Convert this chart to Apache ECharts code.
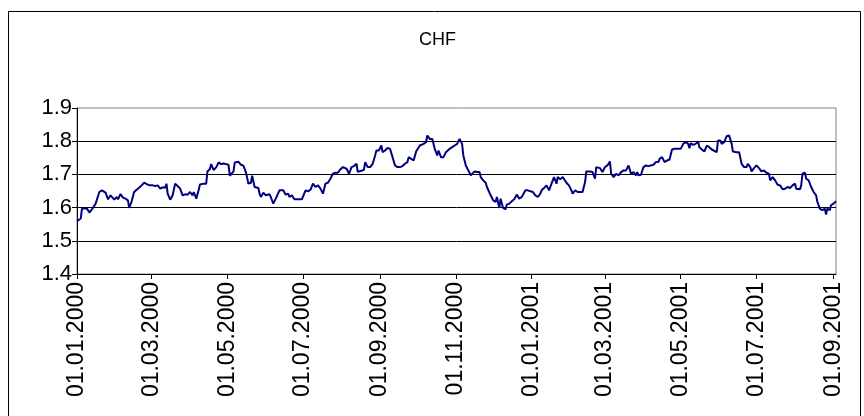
<!DOCTYPE html>
<html>
<head>
<meta charset="utf-8">
<script src="https://cdn.jsdelivr.net/npm/echarts@6/dist/echarts.min.js"></script>
<style>
html, body { margin: 0; padding: 0; background: #fff; }
#chart { width: 864px; height: 416px; }
</style>
</head>
<body>
<div id="chart"></div>
<script>
// days since 01.01.2000
const days = [
  0, 3, 4, 8, 10, 13, 15, 16, 18, 20,
  21, 23, 25, 27, 28, 30, 32, 33, 35, 37,
  39, 41, 42, 44, 46, 48, 50, 52, 54, 55,
  57, 59, 61, 63, 65, 67, 69, 71, 72, 73,
  75, 77, 78, 79, 81, 83, 85, 87, 89, 91,
  93, 94, 96, 98, 99, 102, 104, 105, 107, 108,
  110, 112, 114, 116, 118, 120, 122, 123, 124, 126,
  127, 130, 132, 134, 136, 138, 140, 141, 143, 146,
  147, 148, 150, 152, 155, 156, 158, 160, 163, 164,
  166, 168, 170, 171, 173, 175, 178, 181, 182, 184,
  186, 188, 190, 192, 194, 196, 198, 200, 202, 204,
  206, 208, 210, 212, 214, 215, 217, 219, 221, 223,
  225, 226, 229, 231, 232, 234, 236, 238, 240, 241,
  243, 245, 246, 248, 250, 252, 254, 256, 258, 260,
  262, 264, 266, 267, 269, 271, 273, 274, 276, 279,
  281, 282, 284, 286, 288, 290, 291, 293, 295, 297,
  300, 302, 304, 306, 308, 309, 310, 311, 313, 315,
  317, 318, 320, 322, 324, 325, 327, 329, 330, 332,
  333, 335, 337, 338, 340, 341, 343, 345, 346, 348,
  350, 352, 354, 356, 358, 359, 361, 363, 365, 367,
  369, 371, 373, 374, 376, 378, 380, 382, 384, 386,
  387, 389, 391, 392, 394, 396, 398, 399, 401, 403,
  405, 407, 409, 410, 413, 415, 417, 418, 421, 423,
  425, 427, 429, 430, 432, 434, 436, 438, 440, 442,
  444, 446, 448, 450, 451, 452, 454, 456, 458, 460,
  461, 464, 466, 468, 469, 471, 473, 475, 477, 479,
  481, 484, 486, 488, 490, 492, 493, 494, 496, 498,
  500, 501, 503, 505, 507, 509, 511, 512, 515, 516,
  518, 519, 521, 523, 525, 527, 528, 531, 533, 535,
  537, 539, 540, 542, 543, 545, 547, 549, 551, 553,
  555, 557, 558, 560, 562, 564, 566, 568, 570, 572,
  574, 576, 578, 579, 582, 583, 584, 586, 587, 589,
  591, 593, 595, 596, 598, 600, 602, 603, 604, 606,
  607, 609, 611
];

const chf = [
  1.559, 1.567, 1.597, 1.597, 1.585, 1.600, 1.612, 1.617, 1.647, 1.652,
  1.654, 1.645, 1.625, 1.637, 1.634, 1.624, 1.632, 1.625, 1.641, 1.630,
  1.627, 1.622, 1.599, 1.619, 1.647, 1.654, 1.660, 1.667, 1.675, 1.680,
  1.669, 1.667, 1.667, 1.665, 1.667, 1.657, 1.661, 1.660, 1.672, 1.642,
  1.624, 1.637, 1.655, 1.672, 1.665, 1.657, 1.637, 1.640, 1.639, 1.647,
  1.637, 1.647, 1.627, 1.654, 1.670, 1.672, 1.672, 1.709, 1.716, 1.731,
  1.713, 1.721, 1.736, 1.731, 1.733, 1.731, 1.729, 1.696, 1.693, 1.709,
  1.736, 1.738, 1.729, 1.726, 1.706, 1.672, 1.675, 1.696, 1.662, 1.659,
  1.641, 1.632, 1.645, 1.637, 1.640, 1.632, 1.612, 1.627, 1.652, 1.657,
  1.652, 1.639, 1.642, 1.632, 1.637, 1.625, 1.625, 1.625, 1.625, 1.652,
  1.649, 1.654, 1.672, 1.662, 1.667, 1.657, 1.642, 1.672, 1.675, 1.687,
  1.702, 1.705, 1.705, 1.715, 1.722, 1.717, 1.717, 1.702, 1.722, 1.725,
  1.732, 1.708, 1.711, 1.714, 1.737, 1.722, 1.722, 1.732, 1.757, 1.772,
  1.772, 1.787, 1.767, 1.772, 1.780, 1.777, 1.752, 1.727, 1.722, 1.722,
  1.725, 1.732, 1.737, 1.752, 1.747, 1.742, 1.769, 1.775, 1.787, 1.792,
  1.797, 1.817, 1.807, 1.807, 1.777, 1.757, 1.772, 1.752, 1.752, 1.767,
  1.777, 1.782, 1.787, 1.792, 1.807, 1.812, 1.792, 1.757, 1.727, 1.712,
  1.697, 1.702, 1.709, 1.707, 1.707, 1.692, 1.682, 1.675, 1.662, 1.645,
  1.637, 1.622, 1.617, 1.632, 1.599, 1.627, 1.599, 1.595, 1.609, 1.612,
  1.619, 1.625, 1.639, 1.627, 1.632, 1.637, 1.652, 1.652, 1.649, 1.647,
  1.637, 1.632, 1.642, 1.652, 1.659, 1.667, 1.652, 1.672, 1.692, 1.672,
  1.692, 1.685, 1.692, 1.692, 1.675, 1.667, 1.652, 1.642, 1.652, 1.647,
  1.647, 1.647, 1.677, 1.709, 1.709, 1.707, 1.687, 1.722, 1.719, 1.707,
  1.722, 1.727, 1.739, 1.702, 1.692, 1.702, 1.697, 1.707, 1.712, 1.712,
  1.727, 1.702, 1.707, 1.697, 1.707, 1.697, 1.699, 1.722, 1.727, 1.725,
  1.727, 1.729, 1.737, 1.737, 1.747, 1.752, 1.737, 1.742, 1.745, 1.775,
  1.777, 1.777, 1.777, 1.792, 1.797, 1.792, 1.779, 1.794, 1.789, 1.792,
  1.799, 1.782, 1.775, 1.769, 1.787, 1.782, 1.775, 1.772, 1.767, 1.802,
  1.802, 1.792, 1.797, 1.815, 1.817, 1.792, 1.769, 1.767, 1.767, 1.732,
  1.722, 1.722, 1.732, 1.722, 1.709, 1.719, 1.727, 1.719, 1.709, 1.712,
  1.705, 1.702, 1.682, 1.692, 1.682, 1.669, 1.667, 1.655, 1.657, 1.662,
  1.659, 1.667, 1.672, 1.657, 1.655, 1.667, 1.702, 1.705, 1.687, 1.682,
  1.662, 1.647, 1.637, 1.617, 1.597, 1.592, 1.597, 1.579, 1.597, 1.592,
  1.607, 1.612, 1.619
];

const tickDates = [
  '2000-01-01', '2000-03-01', '2000-05-01', '2000-07-01', '2000-09-01', '2000-11-01',
  '2001-01-01', '2001-03-01', '2001-05-01', '2001-07-01', '2001-09-01'
];

const startDate = '2000-01-01';
const endDate = '2001-09-03';

const DAY = 86400000;
const toTime = (s) => {
  const p = s.split('-').map(Number);
  return Date.UTC(p[0], p[1] - 1, p[2]);
};
const toDay = (s) => Math.round((toTime(s) - toTime(startDate)) / DAY);
const pad = (n) => (n < 10 ? '0' : '') + n;
// day number -> dd.mm.yyyy
const fmtDay = (v) => {
  const d = new Date(toTime(startDate) + Math.round(v) * DAY);
  return pad(d.getUTCDate()) + '.' + pad(d.getUTCMonth() + 1) + '.' + d.getUTCFullYear();
};

const tickDays = tickDates.map(toDay);
const seriesData = days.map((d, i) => [d, chf[i]]);

const chart = echarts.init(document.getElementById('chart'), null, { renderer: 'canvas' });

chart.setOption({
  animation: false,
  backgroundColor: '#fff',
  textStyle: { fontFamily: '"Liberation Sans", Arial, sans-serif' },
  title: {
    text: 'CHF',
    left: 414,
    top: 26,
    textStyle: { fontSize: 18, fontWeight: 'normal', color: '#000' },
  },
  graphic: [
    {
      type: 'rect',
      silent: true,
      shape: { x: 8.5, y: 11.5, width: 852, height: 420 },
      style: { fill: 'none', stroke: '#000', lineWidth: 1 },
    },
  ],
  grid: {
    left: 77,
    right: 28,
    top: 108,
    bottom: 142,
    show: true,
    borderColor: '#808080',
    borderWidth: 1,
  },
  xAxis: {
    type: 'value',
    min: 0,
    max: toDay(endDate),
    axisLine: { lineStyle: { color: '#000', width: 1 } },
    axisTick: { show: true, customValues: tickDays, length: 5, lineStyle: { color: '#000' } },
    axisLabel: {
      customValues: tickDays,
      rotate: 90,
      margin: 8,
      fontSize: 23,
      color: '#000',
      formatter: (v) => fmtDay(v),
    },
    splitLine: { show: false },
  },
  yAxis: {
    type: 'value',
    min: 1.4,
    max: 1.9,
    interval: 0.1,
    axisLine: { show: true, lineStyle: { color: '#000', width: 1 } },
    axisTick: { show: true, length: 5, lineStyle: { color: '#000' } },
    axisLabel: { fontSize: 22, color: '#000', margin: 5, formatter: (v) => v.toFixed(1) },
    splitLine: { show: true, showMinLine: false, showMaxLine: false, lineStyle: { color: '#000', width: 1 } },
  },
  series: [
    {
      type: 'line',
      data: seriesData,
      symbol: 'none',
      lineStyle: { color: '#000080', width: 2 },
      itemStyle: { color: '#000080' },
    },
  ],
});
</script>
</body>
</html>
